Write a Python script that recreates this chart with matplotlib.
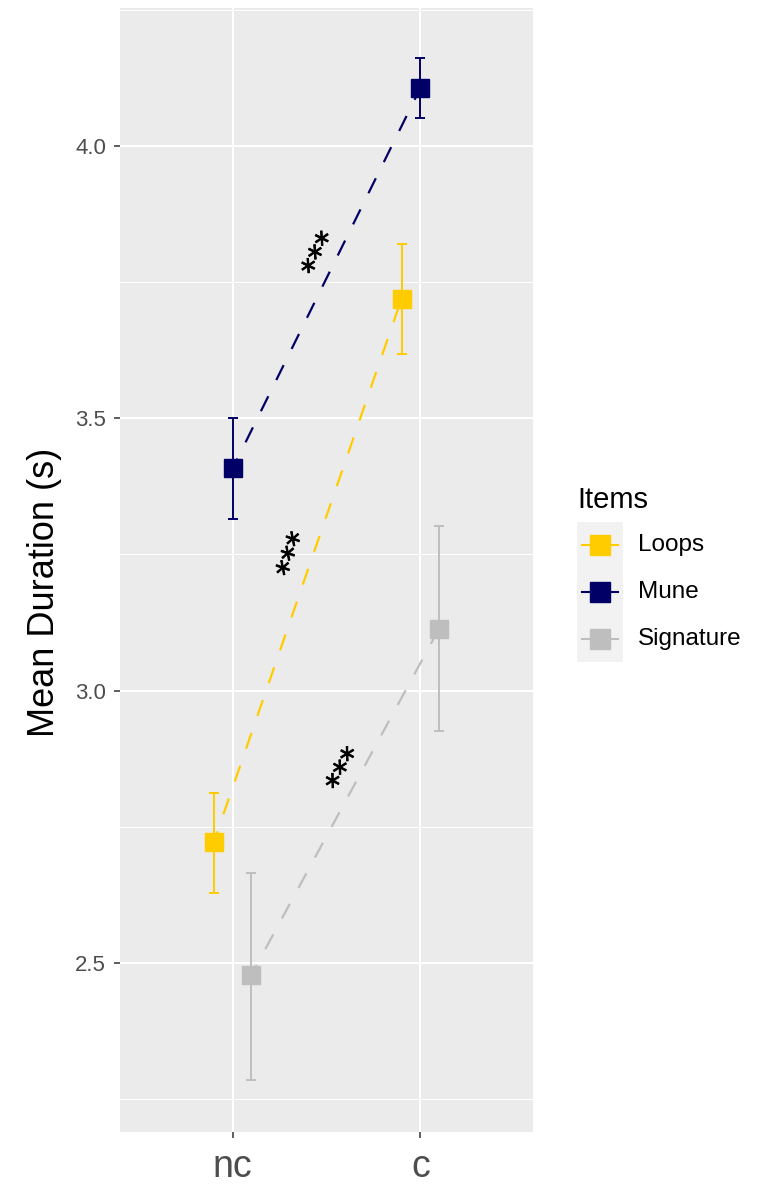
import matplotlib
matplotlib.use('Agg')
import matplotlib.pyplot as plt
import matplotlib.patheffects as pe
import numpy as np

plt.rcParams['font.family'] = ['Liberation Sans', 'DejaVu Sans']
plt.rcParams['lines.scale_dashes'] = False

# ---- data ----
conditions = ['nc', 'c']
items = ['Loops', 'Mune', 'Signature']
colors = ['#FFCC00', '#000066', '#BEBEBE']
loops_mean = [2.722, 3.720]
loops_lo = [2.629, 3.618]
loops_hi = [2.811, 3.820]
mune_mean = [3.408, 4.107]
mune_lo = [3.316, 4.051]
mune_hi = [3.500, 4.162]
sig_mean = [2.478, 3.114]
sig_lo = [2.285, 2.926]
sig_hi = [2.665, 3.302]
means = [loops_mean, mune_mean, sig_mean]
lows = [loops_lo, mune_lo, sig_lo]
highs = [loops_hi, mune_hi, sig_hi]
sig_labels = ['***', '***', '***']
sig_x = [1.330, 1.473, 1.605]
sig_y = [3.248, 3.800, 2.853]
yticks = [2.5, 3.0, 3.5, 4.0]
yminor = [2.25, 2.75, 3.25, 3.75, 4.25]

W, H = 764, 1184
fig = plt.figure(figsize=(W / 100, H / 100), dpi=100)
ax = fig.add_axes([120 / W, 1 - 1132 / H, 413 / W, 1124 / H])
ax.set_facecolor('#EBEBEB')
for s in ax.spines.values():
    s.set_visible(False)

xpos = np.arange(1, len(conditions) + 1)
ax.set_xlim(0.4, 2.6)
ax.set_ylim(2.189, 4.254)

# grid
for y in yminor:
    ax.axhline(y, color='white', lw=0.75, zorder=0.5)
for y in yticks:
    ax.axhline(y, color='white', lw=1.5, zorder=0.6)
for x in xpos:
    ax.axvline(x, color='white', lw=1.5, zorder=0.6)

dodge = [-0.1, 0.0, 0.1]
for i, name in enumerate(items):
    xs = xpos + dodge[i]
    m = np.array(means[i])
    lo = np.array(lows[i])
    hi = np.array(highs[i])
    ax.plot(xs, m, color=colors[i], lw=1.6, linestyle=(4, (12, 13)), zorder=2)
    ax.errorbar(xs, m, yerr=[m - lo, hi - m], fmt='none', ecolor=colors[i],
                elinewidth=1.4, capsize=3.75, capthick=1.4, zorder=3)
    ax.plot(xs, m, linestyle='none', marker='s', markersize=13,
            color=colors[i], zorder=4)
    # significance label rotated along the line
    p0 = ax.transData.transform((xs[0], m[0]))
    p1 = ax.transData.transform((xs[1], m[1]))
    ang = np.degrees(np.arctan2(p1[1] - p0[1], p1[0] - p0[0]))
    ax.text(sig_x[i], sig_y[i], sig_labels[i], rotation=ang, rotation_mode='anchor',
            ha='center', va='center', fontsize=22, family='DejaVu Sans',
            color='black', zorder=5,
            path_effects=[pe.withStroke(linewidth=0.6, foreground='black')])

ax.set_xticks(xpos)
ax.set_xticklabels(conditions)
ax.set_yticks(yticks)
ax.set_yticklabels([f'{v:.1f}' for v in yticks])
ax.tick_params(axis='y', labelsize=16, labelcolor='#4D4D4D', color='#333333',
               length=4, width=1.1, pad=6)
ax.tick_params(axis='x', labelsize=27, labelcolor='#4D4D4D', color='#333333',
               length=4, width=1.1, pad=8)

fig.text(45 / W, 0.5, 'Mean Duration (s)', rotation=90, ha='center', va='center',
         fontsize=26, color='black')

# legend (manual, ggplot style)
fig.text(577 / W, 1 - 500 / H, 'Items', ha='left', va='center', fontsize=21)
kax = fig.add_axes([577 / W, 1 - 662 / H, 46 / W, 140 / H])
kax.set_facecolor('#F2F2F2')
for s in kax.spines.values():
    s.set_visible(False)
kax.set_xticks([])
kax.set_yticks([])
kax.set_xlim(0, 1)
kax.set_ylim(0, len(items))
for i, name in enumerate(items):
    yc = len(items) - 0.5 - i
    kax.plot([0.11, 0.89], [yc, yc], color=colors[i], lw=1.5)
    kax.plot([0.5], [yc], marker='s', markersize=14, color=colors[i], linestyle='none')
    fig.text(638 / W, 1 - (522 + (i + 0.5) * 140 / len(items)) / H, name,
             ha='left', va='center', fontsize=17.5)

fig.savefig('out.png', dpi=100)
